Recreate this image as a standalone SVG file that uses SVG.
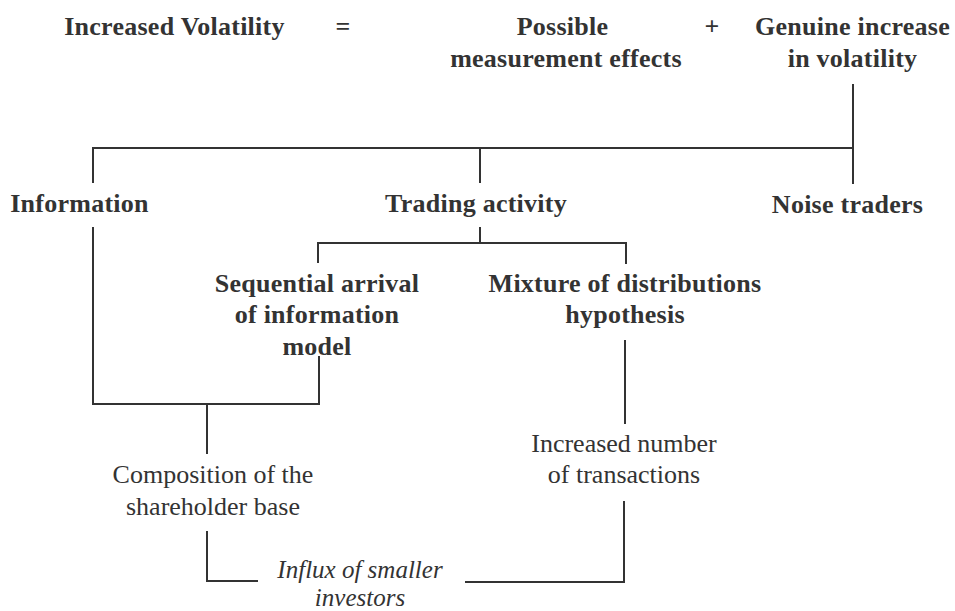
<svg xmlns="http://www.w3.org/2000/svg" width="955" height="611" viewBox="0 0 955 611">
<style>
text{font-family:"Liberation Serif","Times New Roman",serif;font-size:26px;fill:#333;text-anchor:middle}
.b{font-weight:bold;letter-spacing:0.25px}
.i{font-style:italic;font-size:25px}
.c path{fill:none;stroke:#333;stroke-width:2;stroke-linecap:square}
</style>
<rect width="955" height="611" fill="#fff"/>
<g class="c" id="connectors">
<path d="M853 85 V183"/>
<path d="M93 148 H853"/>
<path d="M93 148 V182"/>
<path d="M480 148 V182"/>
<path d="M93 228 V404 H319 V357"/>
<path d="M207 404 V453"/>
<path d="M480 228 V243"/>
<path d="M318 262 V243 H626 V263"/>
<path d="M625 341 V423"/>
<path d="M624 502 V582 H466"/>
<path d="M207 532 V581 H257"/>
</g>
<g id="n-increased"><text class="b" x="174.5" y="35">Increased Volatility</text></g>
<g id="op-equals"><text class="b" x="343" y="35">=</text></g>
<g id="n-measurement"><text class="b" x="562.5" y="35">Possible</text><text class="b" x="566" y="67">measurement effects</text></g>
<g id="op-plus"><text class="b" x="712" y="35">+</text></g>
<g id="n-genuine"><text class="b" x="852.5" y="35">Genuine increase</text><text class="b" x="852.5" y="67">in volatility</text></g>
<g id="n-information"><text class="b" x="79.5" y="212">Information</text></g>
<g id="n-trading"><text class="b" x="476" y="212">Trading activity</text></g>
<g id="n-noise"><text class="b" x="847.5" y="213">Noise traders</text></g>
<g id="n-sequential"><text class="b" x="317" y="292">Sequential arrival</text><text class="b" x="317" y="323">of information</text><text class="b" x="317" y="355">model</text></g>
<g id="n-mixture"><text class="b" x="625" y="292">Mixture of distributions</text><text class="b" x="625" y="323">hypothesis</text></g>
<g id="n-transactions"><text x="624" y="452">Increased number</text><text x="624" y="483">of transactions</text></g>
<g id="n-composition"><text x="213" y="483">Composition of the</text><text x="213" y="515">shareholder base</text></g>
<g id="n-influx"><text class="i" x="360" y="578">Influx of smaller</text><text class="i" x="360" y="606">investors</text></g>
</svg>
